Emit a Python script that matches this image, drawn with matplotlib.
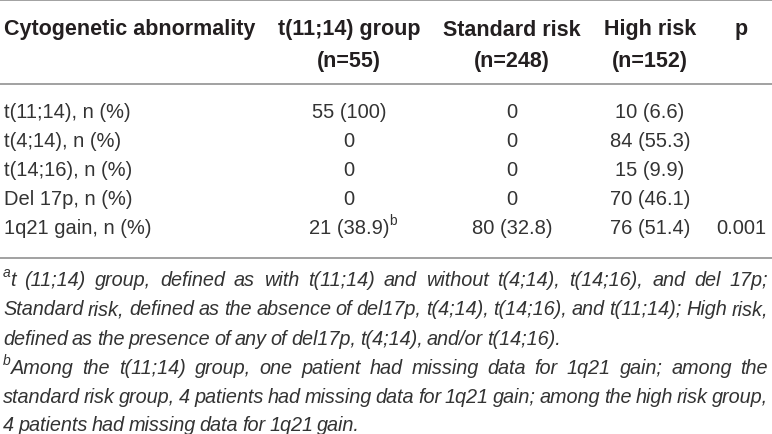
import matplotlib
matplotlib.use('Agg')
from matplotlib import pyplot as plt

# table content
header_1 = ['Cytogenetic abnormality', 't(11;14) group', 'Standard risk', 'High risk', 'p']
header_2 = ['', '(n=55)', '(n=248)', '(n=152)', '']
row_labels = ['t(11;14), n (%)', 't(4;14), n (%)', 't(14;16), n (%)', 'Del 17p, n (%)', '1q21 gain, n (%)']
t1114_group = ['55 (100)', '0', '0', '0', '21 (38.9)']
standard_risk = ['0', '0', '0', '0', '80 (32.8)']
high_risk = ['10 (6.6)', '84 (55.3)', '15 (9.9)', '70 (46.1)', '76 (51.4)']
p_values = ['', '', '', '', '0.001']
cell_marks = {(4, 1): 'b'}

footnote_a = ['t (11;14) group, defined as with t(11;14) and without t(4;14), t(14;16), and del 17p;',
              'Standard risk, defined as the absence of del17p, t(4;14), t(14;16), and t(11;14); High risk,',
              'defined as the presence of any of del17p, t(4;14), and/or t(14;16).']
footnote_b = ['Among the t(11;14) group, one patient had missing data for 1q21 gain; among the',
              'standard risk group, 4 patients had missing data for 1q21 gain; among the high risk group,',
              '4 patients had missing data for 1q21 gain.']

FONT = 'Liberation Sans'
head_color = '#231f20'
text_color = '#333333'
rule_color = '#9a9a9a'

W, H = 772, 435
fig = plt.figure(figsize=(W / 100, H / 100), dpi=100)
fig.set_facecolor('white')
ax = fig.add_axes([0, 0, 1, 1])
ax.set_xlim(0, W)
ax.set_ylim(H, 0)
ax.axis('off')
renderer = fig.canvas.get_renderer()

col_x = [4, 349, 512, 650, 741]
head_y = [30, 62]
row_y = [113, 142, 171, 200, 229]

# rules
for y in [0.8, 85, 259]:
    ax.axhline(y, color=rule_color, lw=1.3)

# header
for i, (h1, h2) in enumerate(zip(header_1, header_2)):
    ha = 'left' if i == 0 else 'center'
    ax.text(col_x[i], head_y[0], h1, ha=ha, va='center', fontsize=15.5, fontweight='bold',
            family=FONT, color=head_color)
    if h2:
        ax.text(col_x[i], head_y[1], h2, ha=ha, va='center', fontsize=15.5, fontweight='bold',
                family=FONT, color=head_color)


def width_of(txt):
    return txt.get_window_extent(renderer).width


# body
columns = [row_labels, t1114_group, standard_risk, high_risk, p_values]
for c, values in enumerate(columns):
    for r, val in enumerate(values):
        if not val:
            continue
        ha = 'left' if c == 0 else 'center'
        t = ax.text(col_x[c], row_y[r], val, ha=ha, va='center', fontsize=14.5,
                    family=FONT, color=text_color)
        if (r, c) in cell_marks:
            w = width_of(t)
            ax.text(col_x[c] + w / 2 - 0.5, row_y[r] - 8, cell_marks[(r, c)], ha='left', va='center',
                    fontsize=10, family=FONT, color=text_color)


# footnotes, justified like the journal layout
def foot_line(line, x0, x1, y, justify):
    words = line.split(' ')
    items = [ax.text(0, y, wd, ha='left', va='center', fontsize=14.3, style='italic',
                     family=FONT, color=text_color) for wd in words]
    widths = [width_of(it) for it in items]
    if justify and len(words) > 1:
        gap = (x1 - x0 - sum(widths)) / (len(words) - 1)
    else:
        gap = 4.0
    x = x0
    for it, w in zip(items, widths):
        it.set_x(x)
        x += w + gap


foot_y = [281, 310, 340, 369, 398, 426]
ax.text(3, foot_y[0] - 8, 'a', ha='left', va='center', fontsize=10, style='italic',
        family=FONT, color=text_color)
ax.text(3, foot_y[3] - 8, 'b', ha='left', va='center', fontsize=10, style='italic',
        family=FONT, color=text_color)
for k, line in enumerate(footnote_a):
    x0 = 10 if k == 0 else 3
    foot_line(line, x0, 768, foot_y[k], k < 2)
for k, line in enumerate(footnote_b):
    x0 = 11 if k == 0 else 3
    foot_line(line, x0, 768, foot_y[3 + k], k < 2)

fig.savefig('out.png', dpi=100, facecolor='white')
